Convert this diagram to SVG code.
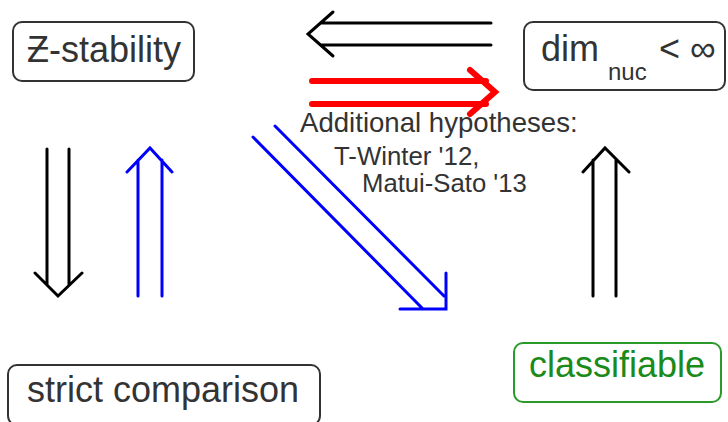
<svg xmlns="http://www.w3.org/2000/svg" width="728" height="422" viewBox="0 0 728 422">
<style>
.box{fill:#fff;stroke:#333;stroke-width:2}
.gbox{fill:#fff;stroke:#2a9a2a;stroke-width:2}
.t{font-family:"Liberation Sans",Arial,sans-serif;fill:#333}
.big{font-size:36px}
.k{fill:none;stroke:#000;stroke-width:3;stroke-linecap:round;stroke-linejoin:miter}
.b{fill:none;stroke:#0000ff;stroke-width:3;stroke-linecap:round}
.r{fill:none;stroke:#ff0000;stroke-width:6;stroke-linecap:round}
</style>
<rect width="728" height="422" fill="#fff"/>
<g id="z-stability">
<rect class="box" x="13" y="22" width="181" height="59" rx="9"/>
<text class="t big" x="27" y="62">Ƶ-stability</text>
</g>
<g id="dimnuc">
<rect class="box" x="524" y="22" width="201" height="68" rx="9"/>
<text class="t big" x="541" y="61">dim</text>
<text class="t" x="608" y="80" font-size="24">nuc</text>
<text class="t big" x="659" y="61">&lt; ∞</text>
</g>
<g id="strict-comparison">
<rect class="box" x="8" y="365" width="312" height="60" rx="9"/>
<text class="t big" x="27" y="402">strict comparison</text>
</g>
<g id="classifiable">
<rect class="gbox" x="514" y="343" width="207" height="59" rx="9"/>
<text class="t big" x="529" y="377" style="fill:#1a8a1a">classifiable</text>
</g>
<g id="note">
<text class="t" x="300" y="132" font-size="27.6">Additional hypotheses:</text>
<text class="t" x="334" y="165" font-size="25.8">T-Winter '12,</text>
<text class="t" x="362" y="192" font-size="25.7">Matui-Sato '13</text>
</g>
<g id="connectors">
<path class="k" d="M491 23H321M491 45H321M333 12L308 34L333 56"/>
<path class="r" d="M312 81H486M312 104H486M470 70L495 92L470 114"/>
<path class="k" d="M47 149V285M69 149V285M35 273L58 296L82 273"/>
<path class="b" d="M138 296V160M162 296V160M127 172L150 148L172 172"/>
<path class="b" d="M253 137L423 309M275 126L444 296M400 309H446V273"/>
<path class="k" d="M593 296V160M616 296V160M583 172L605 148L629 172"/>
</g>
</svg>
